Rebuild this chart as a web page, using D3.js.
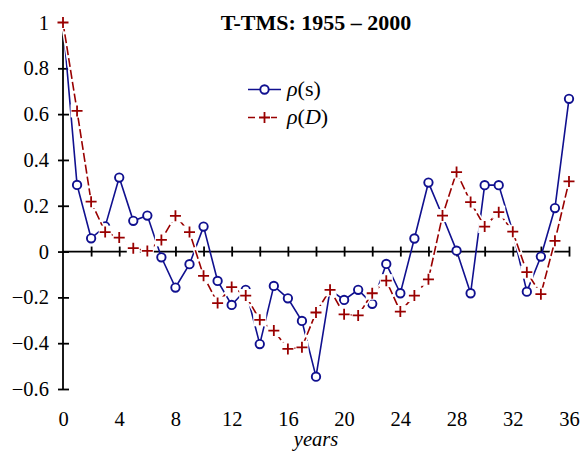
<!DOCTYPE html>
<html><head><meta charset="utf-8">
<script src="https://cdn.jsdelivr.net/npm/d3@7"></script>
<style>body{margin:0;background:#fff}svg{display:block}svg text{font-family:"Liberation Serif","Times New Roman",serif !important}</style>
</head><body>
<svg id="c" width="583" height="452"></svg>
<script>
const lags = d3.range(0, 37);
const rhoS = [1, 0.291, 0.058, 0.11, 0.323, 0.134, 0.157, -0.025, -0.157, -0.055,
  0.109, -0.128, -0.233, -0.167, -0.404, -0.15, -0.204, -0.303, -0.546, -0.167,
  -0.211, -0.167, -0.228, -0.054, -0.182, 0.057, 0.301, 0.155, 0.004, -0.182,
  0.29, 0.29, 0.087, -0.175, -0.022, 0.19, 0.667];
const rhoD = [1, 0.614, 0.218, 0.085, 0.061, 0.015, 0.003, 0.051, 0.156, 0.085,
  -0.106, -0.225, -0.155, -0.192, -0.298, -0.345, -0.425, -0.418, -0.266, -0.167,
  -0.274, -0.279, -0.182, -0.127, -0.262, -0.192, -0.121, 0.157, 0.347, 0.216,
  0.109, 0.172, 0.087, -0.09, -0.186, 0.047, 0.306];
const yTicks = [1, 0.8, 0.6, 0.4, 0.2, 0, -0.2, -0.4, -0.6];
const xMinorTicks = d3.range(2, 37, 2);
const xLabelTicks = d3.range(0, 37, 4);
const titleText = "T-TMS: 1955 \u2013 2000";
const xTitle = "years";

const SERIF = "'Liberation Serif', 'Times New Roman', serif";
const BLUE = "#10108f", RED = "#990000";
const svg = d3.select("#c");
const x = d3.scaleLinear().domain([0, 36]).range([63, 569]);
const y = d3.scaleLinear().domain([-0.6, 1]).range([389, 22.5]);
const fmt = v => v === 0 ? "0" : (v < 0 ? "\u2212" : "") + String(Math.abs(v));

// y axis
const ya = svg.append("g").attr("transform", `translate(${x(0)},0)`)
  .call(d3.axisLeft(y).tickValues(yTicks).tickSizeOuter(0).tickFormat(fmt));
ya.attr("font-family", null).attr("font-size", null);
ya.select(".domain").attr("stroke", "#000").attr("stroke-width", 1.8).attr("d", `M0,${y(1)}V${y(-0.6)}`);
ya.selectAll(".tick line").attr("x1", -5).attr("x2", 6).attr("stroke", "#000").attr("stroke-width", 1.8);
ya.selectAll(".tick text").attr("x", -14).style("font-size", "20.5px").style("font-family", SERIF).attr("fill", "#000");

// x axis at zero
const xa = svg.append("g").attr("transform", `translate(0,${y(0)})`)
  .call(d3.axisBottom(x).tickValues(xMinorTicks).tickSizeOuter(0).tickFormat(""));
xa.select(".domain").attr("stroke", "#000").attr("stroke-width", 1.8).attr("d", `M${x(0)},0H${x(36)}`);
xa.selectAll(".tick line").attr("y1", -5).attr("y2", 5).attr("stroke", "#000").attr("stroke-width", 1.8);

// x labels at bottom
const xl = svg.append("g").attr("transform", `translate(0,408)`)
  .call(d3.axisBottom(x).tickValues(xLabelTicks).tickSize(0).tickFormat(d => String(d)));
xl.attr("font-family", null).attr("font-size", null);
xl.select(".domain").remove();
xl.selectAll(".tick text").style("font-size", "20.5px").style("font-family", SERIF).attr("fill", "#000").attr("dy", "0.71em");

svg.append("text").attr("x", (x(0) + x(36)) / 2).attr("y", 446).attr("text-anchor", "middle")
  .style("font-size", "20.5px").style("font-family", SERIF).attr("font-style", "italic").text(xTitle);

svg.append("text").attr("x", 316).attr("y", 30).attr("text-anchor", "middle")
  .style("font-size", "22px").style("font-family", SERIF).attr("font-weight", "bold").text(titleText);

const line = d3.line().x((d, i) => x(lags[i])).y(d => y(d));

// blue series
svg.append("path").datum(rhoS).attr("d", line).attr("fill", "none").attr("stroke", BLUE).attr("stroke-width", 1.6);
svg.append("g").selectAll("circle").data(rhoS).join("circle")
  .attr("cx", (d, i) => x(lags[i])).attr("cy", d => y(d)).attr("r", 4.2)
  .attr("fill", "#fff").attr("stroke", BLUE).attr("stroke-width", 1.9);

// red series
svg.append("path").datum(rhoD).attr("d", line).attr("fill", "none").attr("stroke", "#fff").attr("stroke-width", 4.5);
svg.append("path").datum(rhoD).attr("d", line).attr("fill", "none").attr("stroke", RED).attr("stroke-width", 1.6)
  .attr("stroke-dasharray", "9,3");
const plus = svg.append("g").selectAll("g").data(rhoD).join("g")
  .attr("transform", (d, i) => `translate(${x(lags[i])},${y(d)})`);
plus.append("rect").attr("x", -6.5).attr("y", -6.5).attr("width", 13).attr("height", 13).attr("fill", "#fff");
plus.append("path").attr("d", "M-5.5,0H5.5M0,-5.5V5.5").attr("stroke", RED).attr("stroke-width", 1.8);

// legend
const lg = svg.append("g");
lg.append("line").attr("x1", 248).attr("x2", 281).attr("y1", 89.5).attr("y2", 89.5).attr("stroke", BLUE).attr("stroke-width", 1.6);
lg.append("circle").attr("cx", 264.5).attr("cy", 89.5).attr("r", 4.2).attr("fill", "#fff").attr("stroke", BLUE).attr("stroke-width", 1.9);
const t1 = lg.append("text").attr("x", 287).attr("y", 96).style("font-size", "22px").style("font-family", SERIF);
t1.append("tspan").attr("font-style", "italic").text("\u03C1");
t1.append("tspan").text("(s)");
lg.append("line").attr("x1", 248).attr("x2", 281).attr("y1", 117.5).attr("y2", 117.5).attr("stroke", RED).attr("stroke-width", 1.6).attr("stroke-dasharray", "7,4");
lg.append("rect").attr("x", 258).attr("y", 111).attr("width", 13).attr("height", 13).attr("fill", "#fff");
lg.append("path").attr("d", "M259,117.5H270M264.5,112V123").attr("stroke", RED).attr("stroke-width", 1.8);
const t2 = lg.append("text").attr("x", 287).attr("y", 124).style("font-size", "22px").style("font-family", SERIF);
t2.append("tspan").attr("font-style", "italic").text("\u03C1");
t2.append("tspan").text("(");
t2.append("tspan").attr("font-style", "italic").text("D");
t2.append("tspan").text(")");
</script>
</body></html>
